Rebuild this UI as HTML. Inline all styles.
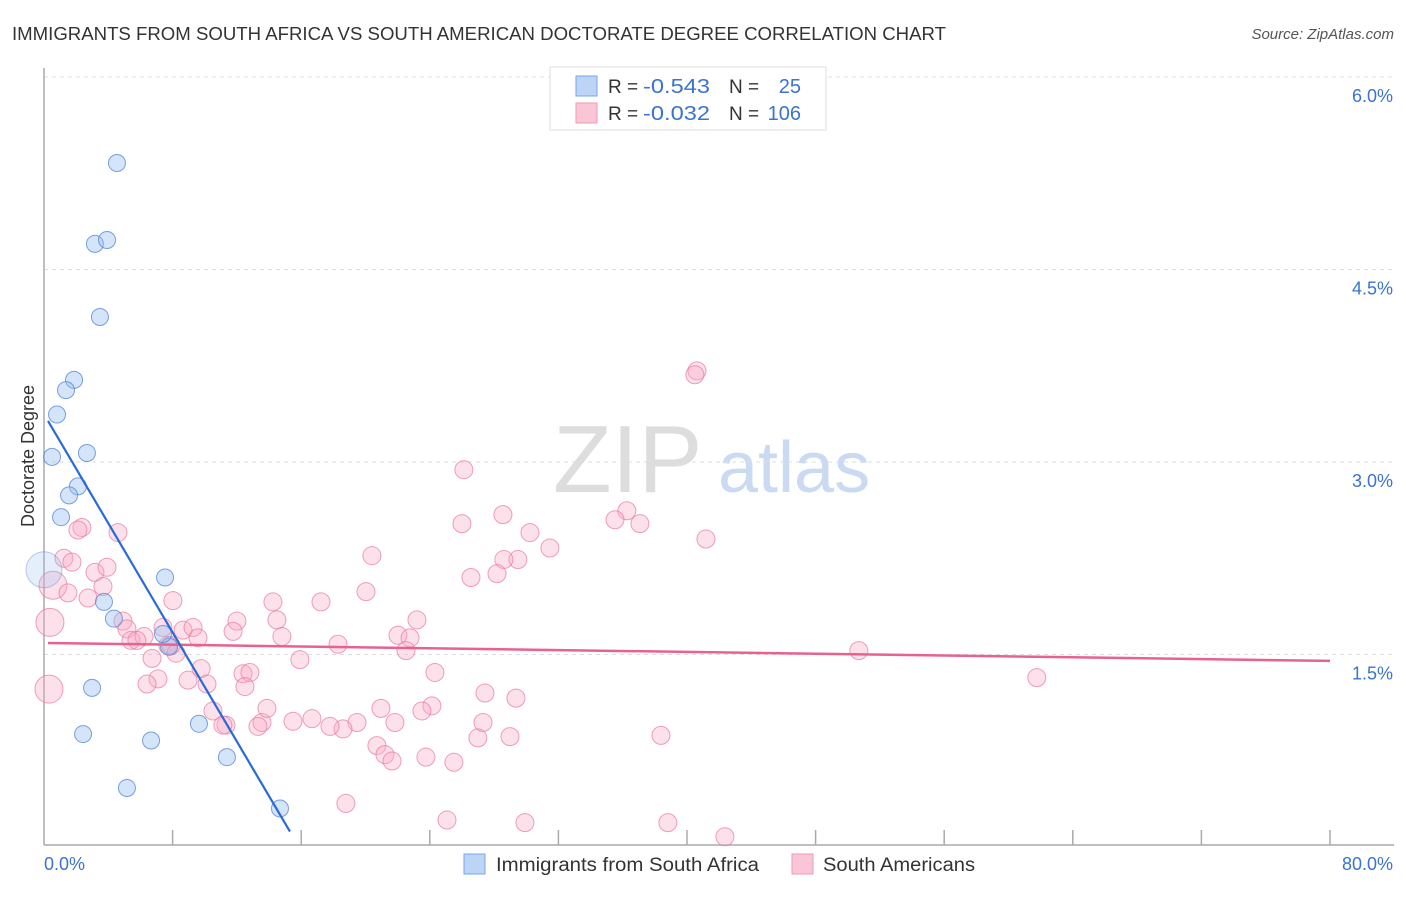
<!DOCTYPE html>
<html><head><meta charset="utf-8"><style>
body{margin:0;background:#fff;font-family:"Liberation Sans",sans-serif}
svg text{font-family:"Liberation Sans",sans-serif}
</style></head><body>
<svg id="chart" width="1406" height="892" xmlns="http://www.w3.org/2000/svg">
<text x="12" y="40" font-size="18" fill="#333" textLength="934" lengthAdjust="spacingAndGlyphs">IMMIGRANTS FROM SOUTH AFRICA VS SOUTH AMERICAN DOCTORATE DEGREE CORRELATION CHART</text>
<text x="1394" y="39" font-size="15" fill="#555" font-style="italic" text-anchor="end">Source: ZipAtlas.com</text>
<g>
<text x="553" y="492" font-family="Liberation Serif" font-size="96" fill="#ddd">ZIP</text>
<text x="718" y="492" font-size="72" fill="#c9daf2">atlas</text>
</g>
<g id="grid"></g>
<g id="axes"></g>
<g id="marks"></g>
<text transform="translate(34,456) rotate(-90)" font-size="18" fill="#333" text-anchor="middle">Doctorate Degree</text>
<g>
<rect x="550" y="67" width="276" height="63" fill="#fff" stroke="#ddd"/>
<rect x="576" y="76" width="21" height="20" fill="#bcd4f5" stroke="#7aa6e6"/>
<rect x="576" y="103" width="21" height="20" fill="#fac6d6" stroke="#ee9ab5"/>
<text x="608" y="93" font-size="19" fill="#333">R =</text><text x="643" y="93" font-size="20" fill="#3a73d0" textLength="67" lengthAdjust="spacingAndGlyphs">-0.543</text>
<text x="729" y="93" font-size="19" fill="#333">N = </text><text x="801" y="93" font-size="20" fill="#3a73d0" text-anchor="end">25</text>
<text x="608" y="120" font-size="19" fill="#333">R =</text><text x="643" y="120" font-size="20" fill="#3a73d0" textLength="67" lengthAdjust="spacingAndGlyphs">-0.032</text>
<text x="729" y="120" font-size="19" fill="#333">N = </text><text x="801" y="120" font-size="20" fill="#3a73d0" text-anchor="end">106</text>
</g>
<g>
<rect x="464" y="854" width="21" height="20" fill="#bcd4f5" stroke="#7aa6e6"/>
<text x="496" y="871" font-size="19" fill="#333" textLength="263" lengthAdjust="spacingAndGlyphs">Immigrants from South Africa</text>
<rect x="792" y="854" width="21" height="20" fill="#fac6d6" stroke="#ee9ab5"/>
<text x="823" y="871" font-size="19" fill="#333" textLength="152" lengthAdjust="spacingAndGlyphs">South Americans</text>
</g>
</svg>
<script>
const yTicks=[1.5,3.0,4.5,6.0];
const yTickLabels=["1.5%","3.0%","4.5%","6.0%"];
const xTickCount=10;
const xMax=80;
const blueX=[4.54,3.17,3.92,3.48,1.87,1.37,0.81,0.50,2.67,2.11,1.56,1.06,0,7.53,3.73,4.35,7.78,7.40,2.99,2.43,6.66,9.64,11.38,5.16,14.68];
const blueY=[5.33,4.70,4.73,4.13,3.64,3.56,3.37,3.04,3.07,2.81,2.74,2.57,2.16,2.10,1.91,1.78,1.56,1.66,1.24,0.88,0.83,0.96,0.70,0.46,0.30];
const blueBig=[12];
const pinkX=[40.62,40.49,26.12,36.26,35.52,37.07,28.55,26.00,30.23,41.18,31.47,20.40,29.48,28.61,28.18,26.56,20.03,17.23,14.24,23.20,14.49,12.00,11.76,22.02,22.77,18.29,14.80,22.52,15.92,24.32,50.69,61.76,27.43,29.36,24.13,23.51,20.96,19.47,16.67,15.49,18.60,17.79,13.56,13.87,11.32,13.31,21.83,27.31,26.99,28.99,20.71,21.21,21.65,23.76,25.50,38.38,18.78,25.07,29.92,38.81,42.36,2.36,2.11,4.60,1.24,1.74,0.56,1.49,3.17,3.92,3.67,2.74,0.37,4.91,5.16,5.41,6.22,5.78,8.02,7.40,8.65,9.27,9.58,7.71,8.21,6.72,7.09,6.41,8.96,9.77,10.14,10.51,11.13,0.31,7.90,12.38,12.81,12.50];
const pinkY=[3.71,3.68,2.94,2.62,2.55,2.52,2.59,2.52,2.45,2.40,2.33,2.27,2.24,2.24,2.13,2.10,1.99,1.91,1.91,1.77,1.77,1.76,1.68,1.65,1.63,1.58,1.64,1.53,1.46,1.36,1.53,1.32,1.20,1.16,1.10,1.06,1.08,0.97,1.00,0.98,0.92,0.94,0.97,1.08,0.95,0.94,0.97,0.97,0.85,0.86,0.79,0.72,0.67,0.70,0.66,0.87,0.34,0.21,0.19,0.19,0.08,2.49,2.47,2.45,2.25,2.22,2.04,1.98,2.14,2.18,2.03,1.94,1.75,1.76,1.70,1.61,1.64,1.61,1.92,1.71,1.69,1.71,1.63,1.57,1.51,1.47,1.31,1.27,1.30,1.39,1.27,1.06,0.95,1.23,1.57,1.35,1.36,1.25];
const pinkBig=[66,72,93];
const blueTrendX=[0.25,15.3];
const blueTrendY=[3.32,0.12];
const pinkTrendX=[0.25,80];
const pinkTrendY=[1.59,1.45];

const X0=44,X1=1330,Y0=847,PXPERY=192.5/1.5;
const sx=v=>X0+(v/xMax)*(X1-X0);
const sy=v=>Y0-v*PXPERY;
const NS="http://www.w3.org/2000/svg";
function mk(tag,parent,attrs){const e=document.createElementNS(NS,tag);for(const k in attrs)e.setAttribute(k,attrs[k]);parent.appendChild(e);return e;}
const grid=document.getElementById('grid'),axes=document.getElementById('axes'),marks=document.getElementById('marks');
yTicks.forEach((t,i)=>{
  const l=mk('line',grid,{x1:X0,x2:1394,y1:sy(t),y2:sy(t),stroke:'#ddd','stroke-dasharray':'4,4'});
  
  
  const tx=mk('text',grid,{x:1393,y:sy(t)+25,'font-size':18,fill:'#3a73d0','text-anchor':'end'});
  tx.textContent=yTickLabels[i];
  
  
});
const ya=mk('line',axes,{x1:X0,x2:X0,y1:68,y2:845,stroke:'#aaa','stroke-width':1.5});


const xa=mk('line',axes,{x1:X0,x2:1394,y1:845,y2:845,stroke:'#aaa','stroke-width':1.5});


for(let i=1;i<=xTickCount;i++){
  const v=xMax*i/xTickCount;
  const t=mk('line',axes,{x1:sx(v),x2:sx(v),y1:830,y2:845,stroke:'#aaa','stroke-width':1.5});
  
  
}
const xl0=mk('text',axes,{x:44,y:870,'font-size':18,fill:'#3a73d0'});xl0.textContent='0.0%';


const xl1=mk('text',axes,{x:1393,y:870,'font-size':18,fill:'#3a73d0','text-anchor':'end'});xl1.textContent='80.0%';



pinkX.forEach((x,i)=>{
  const c=mk('circle',marks,{cx:sx(x),cy:sy(pinkY[i]),r:pinkBig.includes(i)?14:9,fill:'rgba(248,170,195,0.35)',stroke:'rgba(232,120,155,0.7)','stroke-width':1});
  
  
});
blueX.forEach((x,i)=>{
  const big=blueBig.includes(i);
  const c=mk('circle',marks,{cx:sx(x),cy:sy(blueY[i]),r:big?18:8.5,fill:big?'rgba(150,190,240,0.25)':'rgba(150,190,240,0.4)',stroke:big?'rgba(80,130,215,0.4)':'rgba(80,130,215,0.75)','stroke-width':1});
  
  
});
const pl=mk('line',marks,{x1:sx(pinkTrendX[0]),y1:sy(pinkTrendY[0]),x2:sx(pinkTrendX[1]),y2:sy(pinkTrendY[1]),stroke:'#e8628e','stroke-width':2.5});


const bl=mk('line',marks,{x1:sx(blueTrendX[0]),y1:sy(blueTrendY[0]),x2:sx(blueTrendX[1]),y2:sy(blueTrendY[1]),stroke:'#2a6ad8','stroke-width':2.2});


</script>
</body></html>
